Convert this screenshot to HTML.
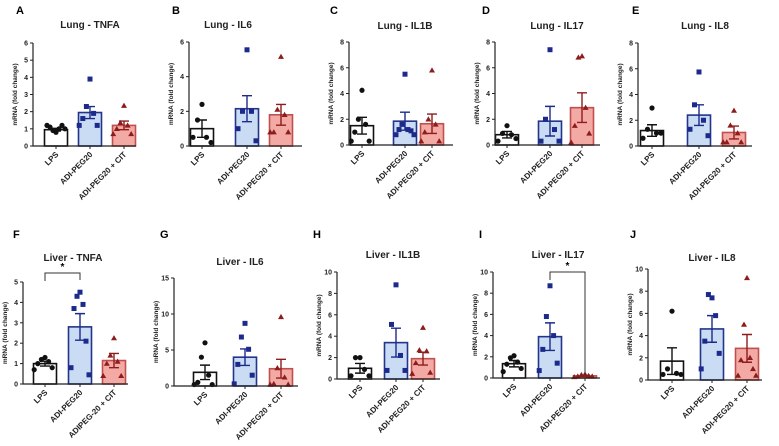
<!DOCTYPE html>
<html><head><meta charset="utf-8">
<style>
html,body{margin:0;padding:0;background:#fff;}
svg{display:block;font-family:"Liberation Sans",Arial,sans-serif;}
</style></head>
<body>
<svg id="fig" width="779" height="446" viewBox="0 0 779 446" xmlns="http://www.w3.org/2000/svg"></svg>
<script>
const categories = ["LPS","ADI-PEG20","ADI-PEG20 + CIT"];
const panelLetters = ["A","B","C","D","E","F","G","H","I","J"];
const panelTitles = ["Lung - TNFA","Lung - IL6","Lung - IL1B","Lung - IL17","Lung - IL8","Liver - TNFA","Liver - IL6","Liver - IL1B","Liver - IL17","Liver - IL8"];
const yMax = [6,6,8,8,8,5,15,10,10,10];
const yTicks = [[0,1,2,3,4,5,6],[0,2,4,6],[0,2,4,6,8],[0,2,4,6,8],[0,2,4,6,8],[0,1,2,3,4,5],[0,5,10,15],[0,2,4,6,8,10],[0,2,4,6,8,10],[0,2,4,6,8,10]];
const lpsMeans = [0.95,1.0,1.5,0.8,1.2,1.0,1.9,1.0,1.35,1.7];
const adiMeans = [1.95,2.15,1.85,1.85,2.4,2.8,4.0,3.4,3.9,4.6];
const citMeans = [1.2,1.8,1.65,2.9,1.05,1.15,2.4,1.9,0.2,2.85];
const lpsSem = [0.08,0.5,0.65,0.25,0.45,0.12,1.0,0.45,0.3,1.2];
const adiSem = [0.35,0.75,0.7,1.15,0.8,0.65,1.15,1.35,1.3,1.2];
const citSem = [0.25,0.6,0.75,1.15,0.5,0.35,1.3,0.6,0.05,1.25];
const lpsPoints = [[0.8,0.9,1.0,1.1,1.2,1.2,1.0],[2.4,1.5,0.5,0.5,0.2],[4.25,2.0,1.6,1.0,0.3,0.3],[1.5,0.9,0.8,0.3,0.5],[2.95,1.3,1.0,0.6,1.0],[1.3,1.2,1.1,1.0,0.8,0.7],[6,4,1.5,0.5,0.2,0.2],[2.0,2.0,0.9,0.3,0.3],[2.1,1.9,1.5,1.3,0.9,0.6],[6.2,1.0,0.6,0.5,0.5]];
const adiPoints = [[3.9,2.3,1.9,1.6,1.2,1.2],[5.55,2.0,2.0,1.0,0.3],[5.5,1.6,1.2,1.2,1.1,0.8,0.8],[7.4,2.0,1.2,0.3,0.3],[5.75,3.2,2.0,1.3,0.8],[4.5,4.3,3.9,3.7,2.1,0.8,0.45],[8.7,6.8,5.1,3.0,1.5,0.3],[8.8,5.1,2.2,0.8,0.8],[8.7,5.8,4.0,2.7,1.4,0.7],[7.4,7.7,5.8,3.5,2.4,1.0]];
const citPoints = [[2.35,1.35,1.2,1.0,0.7,0.7],[5.15,2.1,1.8,0.8,0.8,0.8],[5.8,2.0,1.6,1.0,0.3,0.3],[6.9,6.8,2.9,1.5,0.9,0.2],[2.75,1.6,1.0,0.3,0.3,0.3],[2.25,1.4,1.1,1.0,0.4,0.4],[9.6,2.5,1.2,0.3,0.2,0.2],[4.8,2.7,2.6,1.5,0.6,0.5],[0.35,0.3,0.2,0.15,0.15,0.1],[9.2,5.0,2.0,1.8,1.0,0.4,0.4]];

const layout = [
 {ax:33,yt:43,y0:146,c:[56,90,124],end:136,lx:16,ly:14,tx:90,ty:28},
 {ax:189,yt:42,y0:146,c:[202,247,281],end:302,lx:172,ly:14,tx:228,ty:28},
 {ax:349,yt:42,y0:145,c:[362,405,432],end:453,lx:330,ly:14,tx:405,ty:29},
 {ax:495,yt:42,y0:145,c:[507,550,582],end:600,lx:482,ly:14,tx:557,ty:29},
 {ax:638,yt:43,y0:146,c:[652,699,734],end:752,lx:632,ly:14,tx:705,ty:29},
 {ax:23,yt:282,y0:384,c:[45,80,114],end:128,lx:13,ly:238,tx:73,ty:261},
 {ax:174,yt:278,y0:386,c:[205,245,281],end:298,lx:160,ly:238,tx:240,ty:265},
 {ax:337,yt:272,y0:379,c:[360,396,423],end:440,lx:313,ly:238,tx:393,ty:258},
 {ax:493,yt:272,y0:378,c:[514,550,585],end:600,lx:479,ly:238,tx:558,ty:258},
 {ax:648,yt:269,y0:380,c:[672,712,747],end:762,lx:630,ly:238,tx:712,ty:261}
];
const fills=["#ffffff","#c9dcf3","#f4aaa4"], strokes=["#111","#23348c","#c0504d"], mk=["#111","#1c2a8c","#8e1c1c"];
const NS="http://www.w3.org/2000/svg", svg=document.getElementById('fig');
function E(tag,attrs,parent,text){const e=document.createElementNS(NS,tag);for(const k in attrs)e.setAttribute(k,attrs[k]);if(text!==undefined)e.textContent=text;(parent||svg).appendChild(e);return e;}

for(let p=0;p<10;p++){
  const L=layout[p];
  const g=E('g',{});
  
  
  const y=v=>L.y0-(v/yMax[p])*(L.y0-L.yt);
  const lt=E('text',{x:L.lx,y:L.ly,'font-size':11,'font-weight':'bold'},g,panelLetters[p]);
  
  
  const tt=E('text',{x:L.tx,y:L.ty,'font-size':10,'font-weight':'bold','text-anchor':'middle',fill:'#222'},g,panelTitles[p]);
  
  
  const yl=E('text',{transform:`translate(${L.ax-16},${(L.y0+L.yt)/2}) rotate(-90)`,'font-size':6.5,'font-weight':'bold','text-anchor':'middle',fill:'#222'},g,'mRNA (fold change)');
  
  
  const means=[lpsMeans[p],adiMeans[p],citMeans[p]], sems=[lpsSem[p],adiSem[p],citSem[p]], pts=[lpsPoints[p],adiPoints[p],citPoints[p]];
  for(let i=0;i<3;i++){
    const cx=L.c[i], w=23;
    const b=E('rect',{x:cx-w/2,y:y(means[i]),width:w,height:L.y0-y(means[i]),fill:fills[i],stroke:strokes[i],'stroke-width':1.6},g);
    
    
    const eb=E('path',{d:`M${cx},${y(means[i]-sems[i])}V${y(means[i]+sems[i])}M${cx-5},${y(means[i]+sems[i])}H${cx+5}M${cx-5},${y(means[i]-sems[i])}H${cx+5}`,stroke:mk[i],'stroke-width':1.4,fill:'none'},g);
    
    
    const n=pts[i].length, step=18/Math.max(n-1,1);
    pts[i].forEach((v,k)=>{
      const off=k===0?0:((k%2)?-1:1)*Math.ceil(k/2)*step;
      const px=cx+off, py=y(v);
      let m;
      if(i===0) m=E('circle',{cx:px,cy:py,r:2.6,fill:mk[0]},g);
      else if(i===1) m=E('rect',{x:px-2.5,y:py-2.5,width:5,height:5,fill:mk[1]},g);
      else m=E('path',{d:`M${px},${py-3}L${px+3},${py+2.2}L${px-3},${py+2.2}Z`,fill:mk[2]},g);
      
      
    });
    E('line',{x1:cx,x2:cx,y1:L.y0,y2:L.y0+3,stroke:'#222','stroke-width':1},g);
    const xl=E('text',{transform:`translate(${cx+3},${L.y0+9}) rotate(-45)`,'font-size':8,'font-weight':'bold','text-anchor':'end',fill:'#222'},g,(p===5&&i===2)?'ADIPEG-20 + CIT':categories[i]);
    
    
  }
  const axes=E('path',{d:`M${L.ax},${L.yt}V${L.y0}H${L.end}`,stroke:'#222','stroke-width':1.2,fill:'none'},g);
  
  
  yTicks[p].forEach(t=>{
    E('line',{x1:L.ax-3,x2:L.ax,y1:y(t),y2:y(t),stroke:'#222','stroke-width':1},g);
    const tl=E('text',{x:L.ax-5,y:y(t)+2.5,'font-size':7,'font-weight':'bold','text-anchor':'end',fill:'#222'},g,String(t));
    
    
  });
}
function bracket(p,i1,i2,yb,l1,l2){
  const L=layout[p], a=L.c[i1], b=L.c[i2];
  const br=E('path',{d:`M${a},${l1}V${yb}H${b}V${l2}`,stroke:'#333','stroke-width':1,fill:'none'});
  
  
  const s=E('text',{x:(a+b)/2,y:yb-3,'font-size':10,'font-weight':'bold','text-anchor':'middle'},svg,'*');
  
  
}
bracket(5,0,1,273,281,280);
bracket(8,1,2,272,280,375);
</script>
</body></html>
